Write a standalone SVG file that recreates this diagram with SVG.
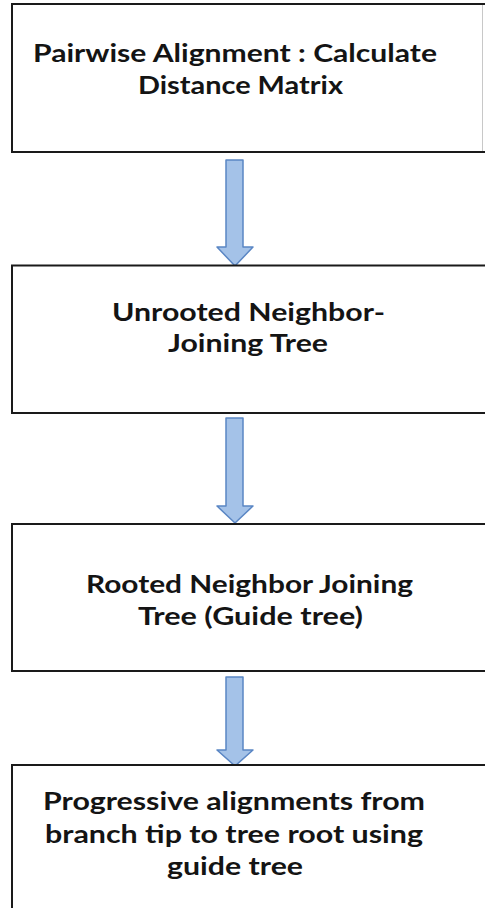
<svg xmlns="http://www.w3.org/2000/svg" width="485" height="908" viewBox="0 0 485 908">
  <style>
    .box { fill: #ffffff; stroke: #1a1a1a; stroke-width: 2; }
    .edge { stroke: #c8c8c8; stroke-width: 1; }
    .arrow { fill: #a4c2e8; stroke: #5a86c4; stroke-width: 1.5; stroke-linejoin: round; }
    .label { font-family: Lato, "Open Sans", "Liberation Sans", sans-serif; font-weight: bold; font-size: 24px; fill: #141414; }
  </style>
  <rect width="485" height="908" fill="#ffffff"/>

  <!-- flow connectors (block arrows) -->
  <g id="connectors">
    <polygon class="arrow" points="226,160 243,160 243,247 253,247 235,266 217,247 226,247"/>
    <polygon class="arrow" points="226,418 243,418 243,506 253,506 235,523 217,506 226,506"/>
    <polygon class="arrow" points="226,677 243,677 243,750 253,750 235,766 217,750 226,750"/>
  </g>

  <g id="step1">
    <rect class="box" x="12" y="4" width="480" height="148"/>
    <line class="edge" x1="482.5" y1="5" x2="482.5" y2="151"/>
    <text class="label" x="33" y="62" textLength="404" lengthAdjust="spacingAndGlyphs">Pairwise Alignment : Calculate</text>
    <text class="label" x="138" y="93.5" textLength="205" lengthAdjust="spacingAndGlyphs">Distance Matrix</text>
  </g>

  <g id="step2">
    <rect class="box" x="12" y="265.5" width="480" height="147.5"/>
    <text class="label" x="112" y="320.5" textLength="273" lengthAdjust="spacingAndGlyphs">Unrooted Neighbor-</text>
    <text class="label" x="168" y="352" textLength="160" lengthAdjust="spacingAndGlyphs">Joining Tree</text>
  </g>

  <g id="step3">
    <rect class="box" x="12" y="524" width="480" height="147"/>
    <text class="label" x="86" y="593" textLength="327" lengthAdjust="spacingAndGlyphs">Rooted Neighbor Joining</text>
    <text class="label" x="138" y="624.5" textLength="225" lengthAdjust="spacingAndGlyphs">Tree (Guide tree)</text>
  </g>

  <g id="step4">
    <rect class="box" x="12" y="765" width="480" height="160"/>
    <text class="label" x="43" y="810" textLength="382" lengthAdjust="spacingAndGlyphs">Progressive alignments from</text>
    <text class="label" x="45" y="842.5" textLength="378" lengthAdjust="spacingAndGlyphs">branch tip to tree root using</text>
    <text class="label" x="167" y="875" textLength="136" lengthAdjust="spacingAndGlyphs">guide tree</text>
  </g>
</svg>
